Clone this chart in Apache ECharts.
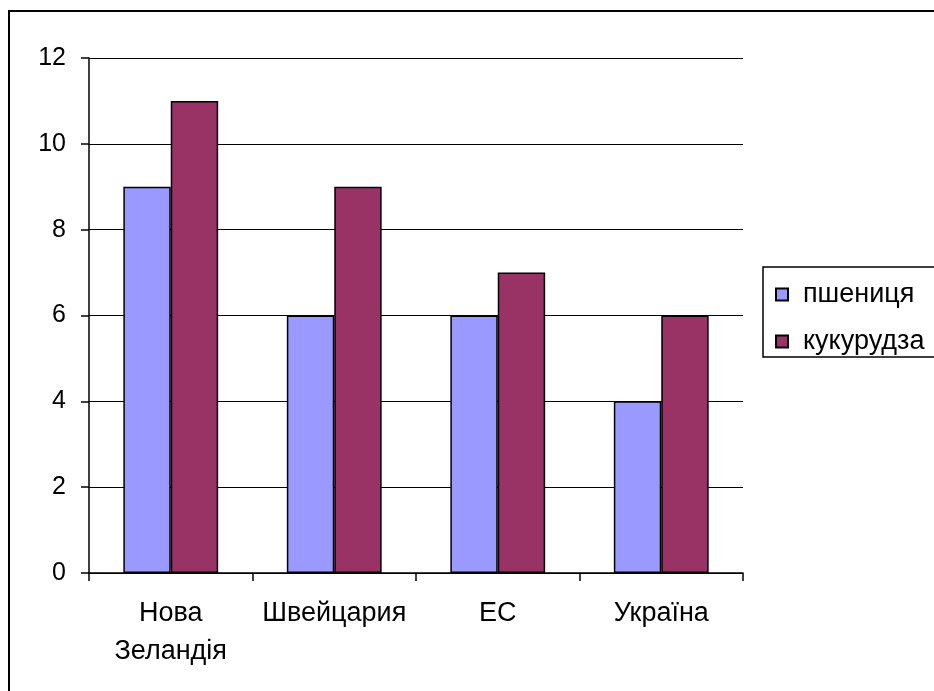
<!DOCTYPE html>
<html>
<head>
<meta charset="utf-8">
<script src="https://cdn.jsdelivr.net/npm/echarts@6/dist/echarts.min.js"></script>
<style>
  html, body { margin: 0; padding: 0; background: #fff; }
  #main { width: 934px; height: 691px; }
</style>
</head>
<body>
<div id="main"></div>
<script>
// дані
const categories = ['Нова\nЗеландія', 'Швейцария', 'ЕС', 'Україна'];
const seriesNames = ['пшениця', 'кукурудза'];
const wheat = [9, 6, 6, 4];
const corn = [11, 9, 7, 6];
const yTicks = { min: 0, max: 12, interval: 2 };

const font = 'Liberation Sans, Arial, sans-serif';

const option = {
  animation: false,
  backgroundColor: '#fff',
  textStyle: { fontFamily: font },
  graphic: [
    // рамка діаграми
    {
      type: 'rect',
      shape: { x: 9, y: 11, width: 1000, height: 1000 },
      style: { fill: 'none', stroke: '#000', lineWidth: 2 },
      z: 0
    },
    // рамка легенди
    {
      type: 'rect',
      shape: { x: 763, y: 267, width: 200, height: 90 },
      style: { fill: 'none', stroke: '#000', lineWidth: 1.5 },
      z: 0
    }
  ],
  grid: {
    left: 89,
    right: 191,
    top: 58,
    bottom: 118
  },
  legend: {
    orient: 'vertical',
    left: 775,
    top: 281,
    padding: 0,
    itemWidth: 12,
    itemHeight: 12,
    itemGap: 20,
    icon: 'rect',
    textStyle: {
      fontFamily: font,
      fontSize: 27,
      color: '#000',
      padding: [0, 0, 0, 10]
    },
    data: seriesNames
  },
  xAxis: {
    type: 'category',
    data: categories,
    axisLine: { lineStyle: { color: '#000', width: 1.5 } },
    axisTick: { show: true, interval: 0, length: 8, lineStyle: { color: '#000', width: 1.5 } },
    axisLabel: {
      interval: 0,
      color: '#000',
      fontFamily: font,
      fontSize: 27,
      lineHeight: 38,
      margin: 22
    }
  },
  yAxis: {
    type: 'value',
    min: yTicks.min,
    max: yTicks.max,
    interval: yTicks.interval,
    axisLine: { show: true, lineStyle: { color: '#000', width: 1.5 } },
    axisTick: { show: true, length: 8, lineStyle: { color: '#000', width: 1.5 } },
    splitLine: { show: true, lineStyle: { color: '#000', width: 1 } },
    axisLabel: {
      color: '#000',
      fontFamily: font,
      fontSize: 25,
      margin: 23
    }
  },
  series: [
    {
      name: seriesNames[0],
      type: 'bar',
      data: wheat,
      barGap: '0%',
      barCategoryGap: '42%',
      itemStyle: { color: '#9999FF', borderColor: '#000', borderWidth: 1.5 }
    },
    {
      name: seriesNames[1],
      type: 'bar',
      data: corn,
      itemStyle: { color: '#993366', borderColor: '#000', borderWidth: 1.5 }
    }
  ]
};

const chartDom = document.getElementById('main');
const myChart = echarts.init(chartDom);
myChart.setOption(option);
</script>
</body>
</html>
